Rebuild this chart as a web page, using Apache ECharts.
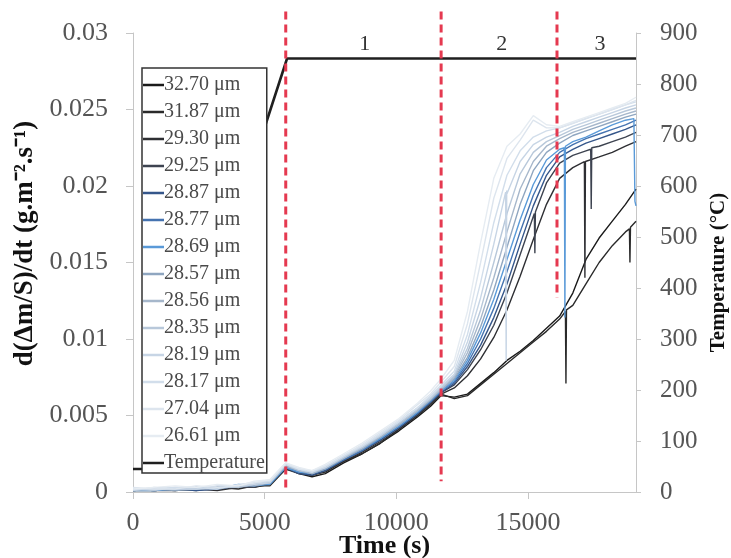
<!DOCTYPE html>
<html><head><meta charset="utf-8">
<script src="https://cdn.jsdelivr.net/npm/echarts@6/dist/echarts.min.js"></script>
<style>html,body{margin:0;padding:0;background:#fff}#c{width:731px;height:558px}</style>
</head><body><div id="c"></div>
<script>
// ---- data ----
const seriesNames = ['32.70 μm','31.87 μm','29.30 μm','29.25 μm','28.87 μm','28.77 μm','28.69 μm','28.57 μm','28.56 μm','28.35 μm','28.19 μm','28.17 μm','27.04 μm','26.61 μm'];
const seriesColors = ['#1a1a1a','#2a2a2a','#2e2f33','#3d4350','#35568a','#4573b0','#5a9ad8','#8fa6c0','#a6b7cb','#b8c8da','#c7d5e5','#d2deeb','#dde5ee','#e6ecf2'];
const times = [0,800,1600,2400,3200,4000,4600,5200,5800,6300,6800,7300,8000,8700,9400,10100,10800,11300,11700,12200,12700,13200,13700,14200,14700,15200,15700,16200,16700,17200,17700,18200,18700,19100];
const v3270 = [0.0001,0.0002,0.0001,0.0002,0.0002,0.0003,0.0003,0.0005,0.0016,0.0012,0.0010,0.0012,0.0019,0.0025,0.0032,0.0040,0.0049,0.0056,0.0063,0.0062,0.0064,0.0071,0.0078,0.0086,0.0092,0.0099,0.0107,0.0115,0.0130,0.0152,0.0166,0.0177,0.0188,0.0198];
const v3187 = [0.0002,0.0001,0.0002,0.0001,0.0003,0.0002,0.0004,0.0004,0.0015,0.0013,0.0011,0.0013,0.0020,0.0025,0.0032,0.0041,0.0050,0.0057,0.0064,0.0061,0.0063,0.0070,0.0077,0.0084,0.0091,0.0098,0.0105,0.0113,0.0122,0.0136,0.0150,0.0161,0.0170,0.0177];
const v2930 = [0.0001,0.0001,0.0002,0.0002,0.0001,0.0003,0.0004,0.0005,0.0015,0.0012,0.0011,0.0014,0.0020,0.0026,0.0033,0.0041,0.0050,0.0058,0.0064,0.0068,0.0076,0.0087,0.0101,0.0119,0.0141,0.0165,0.0188,0.0205,0.0212,0.0216,0.0219,0.0222,0.0226,0.0229];
const v2925 = [0.0002,0.0001,0.0001,0.0003,0.0002,0.0003,0.0003,0.0006,0.0016,0.0013,0.0011,0.0014,0.0021,0.0027,0.0034,0.0042,0.0051,0.0058,0.0065,0.0070,0.0080,0.0093,0.0109,0.0130,0.0155,0.0180,0.0202,0.0215,0.0220,0.0223,0.0226,0.0229,0.0232,0.0235];
const v2887 = [0.0001,0.0002,0.0002,0.0001,0.0002,0.0004,0.0005,0.0005,0.0016,0.0012,0.0011,0.0014,0.0021,0.0027,0.0034,0.0042,0.0051,0.0059,0.0065,0.0071,0.0082,0.0096,0.0114,0.0136,0.0162,0.0187,0.0207,0.0219,0.0224,0.0228,0.0231,0.0234,0.0237,0.0240];
const v2877 = [0.0002,0.0001,0.0002,0.0002,0.0003,0.0004,0.0004,0.0006,0.0017,0.0013,0.0012,0.0015,0.0021,0.0027,0.0035,0.0043,0.0052,0.0059,0.0066,0.0072,0.0084,0.0100,0.0120,0.0144,0.0170,0.0194,0.0212,0.0222,0.0227,0.0231,0.0234,0.0237,0.0240,0.0243];
const v2869 = [0.0001,0.0001,0.0002,0.0003,0.0002,0.0005,0.0004,0.0005,0.0016,0.0013,0.0012,0.0015,0.0022,0.0028,0.0035,0.0043,0.0052,0.0060,0.0066,0.0073,0.0086,0.0104,0.0126,0.0152,0.0178,0.0201,0.0217,0.0224,0.0229,0.0232,0.0236,0.0240,0.0243,0.0187];
const v2857 = [0.0002,0.0002,0.0001,0.0002,0.0003,0.0003,0.0005,0.0006,0.0017,0.0014,0.0012,0.0015,0.0022,0.0028,0.0036,0.0044,0.0053,0.0060,0.0067,0.0074,0.0088,0.0108,0.0132,0.0160,0.0188,0.0210,0.0222,0.0228,0.0233,0.0236,0.0239,0.0242,0.0245,0.0247];
const v2856 = [0.0001,0.0002,0.0002,0.0002,0.0002,0.0004,0.0004,0.0006,0.0017,0.0014,0.0012,0.0016,0.0022,0.0029,0.0036,0.0044,0.0053,0.0061,0.0067,0.0075,0.0091,0.0113,0.0140,0.0170,0.0198,0.0216,0.0226,0.0231,0.0235,0.0238,0.0241,0.0244,0.0247,0.0249];
const v2835 = [0.0002,0.0001,0.0003,0.0002,0.0003,0.0003,0.0005,0.0007,0.0018,0.0014,0.0013,0.0016,0.0023,0.0029,0.0037,0.0045,0.0054,0.0061,0.0068,0.0076,0.0094,0.0119,0.0150,0.0182,0.0208,0.0222,0.0229,0.0233,0.0237,0.0240,0.0243,0.0246,0.0249,0.0251];
const v2819 = [0.0001,0.0003,0.0002,0.0002,0.0004,0.0004,0.0005,0.0006,0.0018,0.0015,0.0013,0.0016,0.0023,0.0030,0.0037,0.0046,0.0055,0.0062,0.0069,0.0077,0.0098,0.0127,0.0162,0.0195,0.0216,0.0227,0.0232,0.0235,0.0239,0.0242,0.0245,0.0248,0.0251,0.0253];
const v2817 = [0.0002,0.0002,0.0003,0.0003,0.0002,0.0005,0.0006,0.0007,0.0018,0.0015,0.0013,0.0017,0.0024,0.0030,0.0038,0.0046,0.0055,0.0063,0.0070,0.0079,0.0103,0.0137,0.0176,0.0207,0.0223,0.0232,0.0236,0.0238,0.0241,0.0244,0.0247,0.0250,0.0253,0.0255];
const v2704 = [0.0003,0.0002,0.0002,0.0004,0.0003,0.0004,0.0006,0.0008,0.0019,0.0015,0.0014,0.0017,0.0024,0.0031,0.0039,0.0047,0.0057,0.0064,0.0072,0.0082,0.0110,0.0150,0.0192,0.0218,0.0230,0.0243,0.0238,0.0238,0.0241,0.0244,0.0247,0.0250,0.0253,0.0256];
const v2661 = [0.0002,0.0003,0.0004,0.0003,0.0005,0.0004,0.0007,0.0008,0.0019,0.0016,0.0014,0.0018,0.0025,0.0032,0.0040,0.0048,0.0058,0.0066,0.0074,0.0086,0.0118,0.0163,0.0205,0.0226,0.0234,0.0246,0.0240,0.0239,0.0242,0.0245,0.0248,0.0251,0.0254,0.0258];
// sharp drops seen on some curves: [time, value]
const spikes3187 = [[16420,0.0118],[16440,0.0071],[16460,0.0119],[18850,0.0172],[18870,0.0150],[18890,0.0173]];
const spikes2930 = [[17140,0.0216],[17160,0.0140],[17180,0.0216]];
const spikes2925 = [[15240,0.0182],[15260,0.0156],[15280,0.0183],[17380,0.0224],[17400,0.0185],[17420,0.0225]];
const spikes2869 = [[16380,0.0225],[16400,0.0114],[16420,0.0226],[19020,0.0244],[19060,0.0190]];
const spikes2819 = [[14150,0.0196],[14170,0.0086],[14190,0.0197]];
// temperature
const tempTimes = [0,780,5850,19100];
const tempValues = [45,45,850,850];
// stage boundaries (red dashed lines): time, top, bottom (left-axis units)
const stageTimes = [5800,11700,16100];
const stageTop = [0.0314,0.0314,0.0314];
const stageBottom = [0.0003,0.0007,0.0127];
const stageLabels = ['1','2','3'];
const stageLabelTimes = [8800,14000,17730];

// ---- build ----
const valueSets = [v3270,v3187,v2930,v2925,v2887,v2877,v2869,v2857,v2856,v2835,v2819,v2817,v2704,v2661];
const spikeSets = [[],spikes3187,spikes2930,spikes2925,[],[],spikes2869,[],[],[],spikes2819,[],[],[]];
function build(vals, sp){
  const pts = times.map((t,i)=>[t, vals[i]]).concat(sp);
  pts.sort((a,b)=>a[0]-b[0]);
  return pts;
}
const FONT = 'Liberation Serif';
const axisGray = '#c6c6c6';
const labelColor = '#555';

const series = seriesNames.map((n,i)=>({
  name:n, type:'line', data:build(valueSets[i], spikeSets[i]),
  symbol:'none', showSymbol:false,
  lineStyle:{width:1.4,color:seriesColors[i]}, itemStyle:{color:seriesColors[i]},
  animation:false
}));
series.push({
  name:'Temperature', type:'line', yAxisIndex:1,
  data: tempTimes.map((t,i)=>[t,tempValues[i]]),
  symbol:'none', lineStyle:{width:2.6,color:'#1f1f1f'}, itemStyle:{color:'#1f1f1f'},
  animation:false,
  markPoint:{
    symbol:'circle', symbolSize:0, animation:false,
    label:{show:true, position:'top', distance:3, color:'#333', fontFamily:FONT, fontSize:22, formatter:p=>p.name},
    data: stageLabels.map((l,i)=>({name:l, coord:[stageLabelTimes[i],850]}))
  }
});
series.push({
  name:'stages', type:'custom', clip:false, z:5, silent:true, animation:false,
  data: stageTimes.map((t,i)=>[t,stageTop[i],stageBottom[i]]),
  encode:{x:0,y:[1,2]},
  renderItem:(params, api)=>{
    const p1 = api.coord([api.value(0), api.value(1)]);
    const p2 = api.coord([api.value(0), api.value(2)]);
    return {type:'line', shape:{x1:p1[0],y1:p1[1],x2:p2[0],y2:p2[1]},
      style:{stroke:'#e53950', lineWidth:3, lineDash:[8,5], fill:null}};
  }
});

const chart = echarts.init(document.getElementById('c'));
chart.setOption({
  animation:false,
  backgroundColor:'#fff',
  grid:{left:133,right:95,top:33,bottom:66,outerBoundsMode:'none',containLabel:false},
  legend:{
    orient:'vertical', left:142, top:68,
    padding:[7,2,0,1], itemGap:7, itemWidth:21, itemHeight:2.5, icon:'rect',
    backgroundColor:'#fff', borderColor:'#333', borderWidth:1.5, borderRadius:0,
    textStyle:{fontFamily:FONT,fontSize:20,color:'#4a4a4a',lineHeight:20, padding:[0,0,0,-5]},
    data:seriesNames.concat(['Temperature'])
  },
  xAxis:{
    type:'value', min:0, max:19100, interval:5000,
    name:'Time (s)', nameLocation:'middle', nameGap:41, nameMoveOverlap:false,
    nameTextStyle:{fontFamily:FONT,fontSize:26,fontWeight:'bold',color:'#111',verticalAlign:'top'},
    axisLine:{lineStyle:{color:axisGray}}, axisTick:{show:true,length:7,lineStyle:{color:axisGray}},
    axisLabel:{fontFamily:FONT,fontSize:26,color:labelColor,margin:18,showMaxLabel:false,
      formatter:v=>(v%5000===0?String(v):'')},
    splitLine:{show:false}
  },
  yAxis:[{
    type:'value', min:0, max:0.03, interval:0.005,
    name:'d(Δm/S)/dt (g.m⁻².s⁻¹)', nameLocation:'middle', nameGap:82,
    nameTextStyle:{fontFamily:FONT,fontSize:27,fontWeight:'bold',color:'#111',padding:[0,0,0,38]},
    axisLine:{show:true,lineStyle:{color:axisGray}}, axisTick:{show:true,length:7,lineStyle:{color:axisGray}},
    axisLabel:{fontFamily:FONT,fontSize:26,color:labelColor,margin:25,formatter:v=>String(+v.toFixed(3))},
    splitLine:{show:false}
  },{
    type:'value', min:0, max:900, interval:100, position:'right',
    name:'Temperature (°C)', nameLocation:'middle', nameGap:72,
    nameTextStyle:{fontFamily:FONT,fontSize:21,fontWeight:'bold',color:'#111',padding:[0,20,0,0]},
    axisLine:{show:true,lineStyle:{color:axisGray}}, axisTick:{show:true,length:5,lineStyle:{color:axisGray}},
    axisLabel:{fontFamily:FONT,fontSize:25,color:labelColor,margin:24},
    splitLine:{show:false}
  }],
  series:series
});
</script></body></html>
